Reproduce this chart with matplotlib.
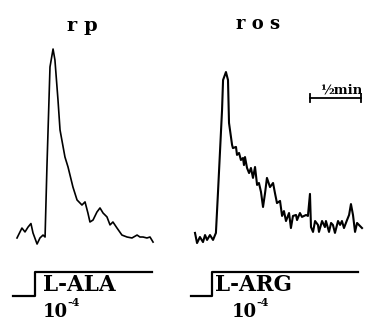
import matplotlib
matplotlib.use("Agg")
import matplotlib.pyplot as plt
import numpy as np

# ---- data (time in s, response in arbitrary units) ----
rp_t = [0.0, 2.9, 4.7, 6.5, 8.2, 9.4, 11.8, 13.5, 15.3, 16.5, 17.6, 19.4, 21.2,
        22.3, 24.1, 25.3, 28.2, 30.0, 32.9, 35.3, 38.2, 40.0, 41.7, 42.9, 44.7,
        47.0, 48.8, 50.6, 52.9, 54.7, 56.4, 58.8, 61.7, 64.7, 67.6, 70.6, 72.3,
        74.1, 76.4, 78.2, 80.0]
rp_r = [0.36, 0.87, 0.67, 0.92, 1.10, 0.62, 0.05, 0.36, 0.51, 0.41, 4.0, 9.13,
        10.05, 9.49, 7.44, 5.9, 4.51, 4.0, 2.97, 2.31, 2.05, 2.21, 1.64, 1.18,
        1.28, 1.69, 1.9, 1.64, 1.44, 1.03, 1.18, 0.87, 0.51, 0.41, 0.36, 0.51,
        0.41, 0.41, 0.36, 0.41, 0.15]

ros_t = [0.0, 1.2, 2.9, 4.7, 5.9, 7.1, 8.8, 10.6, 12.3, 13.5, 15.9, 16.5, 18.2,
         19.4, 20.0, 21.8, 22.3, 24.1, 24.7, 25.9, 27.0, 28.2, 28.8, 29.4, 30.6,
         31.8, 32.9, 34.1, 35.3, 36.5, 37.6, 38.8, 40.0, 41.2, 42.3, 44.1, 45.9,
         47.0, 48.2, 50.0, 51.2, 52.3, 53.5, 55.3, 56.4, 57.6, 59.4, 60.0, 61.7,
         62.9, 65.3, 66.4, 67.6, 68.2, 69.4, 70.6, 72.3, 72.9, 74.7, 76.4, 77.0,
         78.8, 80.0, 81.1, 82.3, 84.1, 85.3, 86.4, 87.6, 89.4, 90.6, 91.7, 92.9,
         94.1, 95.3, 96.4, 98.2]
ros_r = [0.62, 0.10, 0.41, 0.15, 0.51, 0.26, 0.51, 0.26, 0.62, 2.67, 6.92, 8.46,
         8.87, 8.46, 6.26, 5.13, 4.97, 5.03, 4.62, 4.72, 4.36, 4.46, 4.10, 4.51,
         3.95, 3.69, 3.95, 3.44, 4.0, 3.08, 3.18, 2.72, 1.95, 2.67, 3.44, 2.97,
         3.18, 2.67, 2.15, 2.26, 1.49, 1.74, 1.23, 1.64, 0.87, 1.49, 1.54, 1.28,
         1.64, 1.44, 1.54, 1.49, 2.62, 0.92, 0.67, 1.23, 1.03, 0.67, 1.23, 0.92,
         1.23, 0.67, 1.13, 1.03, 0.62, 1.23, 1.03, 1.23, 0.87, 1.28, 1.54, 2.10,
         1.54, 0.67, 1.13, 1.03, 0.87]

# stimulus (start, on, end) in s
rp_stim = [-2.4, 10.6, 79.4]
ros_stim = [-2.4, 10.0, 95.6]
stim_labels = ["L-ALA", "L-ARG"]
titles = ["r p", "r o s"]
bar_len = 30.0  # 1/2 min

W, H = 369, 324
S_PER_PX = 0.588
R_PER_PX = 1 / 19.5
STIM_LO, STIM_HI = -2.62, -1.38

fig = plt.figure(figsize=(W / 100, H / 100), dpi=100)
fig.patch.set_facecolor("white")


def panel(x0_px, t, r, stim, lw):
    ax = fig.add_axes([0, 0, 1, 1])
    ax.patch.set_alpha(0)
    ax.set_xlim(-x0_px * S_PER_PX, (W - x0_px) * S_PER_PX)
    ax.set_ylim((245 - H) * R_PER_PX, 245 * R_PER_PX)
    ax.axis("off")
    ax.plot(t, r, color="black", lw=lw, solid_joinstyle="round")
    ax.plot([stim[0], stim[1], stim[1], stim[2]],
            [STIM_LO, STIM_LO, STIM_HI, STIM_HI], color="black", lw=1.6)
    return ax


panel(17, rp_t, rp_r, rp_stim, 1.2)
ax2 = panel(195, ros_t, ros_r, ros_stim, 1.5)

# scale bar
b0 = 67.6
yb = (245 - 98) * R_PER_PX
ax2.plot([b0, b0 + bar_len], [yb, yb], color="black", lw=1.3)
for xb in (b0, b0 + bar_len):
    ax2.plot([xb, xb], [yb - 0.2, yb + 0.2], color="black", lw=1.3)
fig.text(362 / W, 1 - 94 / H, "½min", ha="right", va="baseline",
         fontsize=9.5, fontweight="bold", family="DejaVu Serif")

serif = dict(family="DejaVu Serif", fontweight="bold", color="black")
fig.text(82 / W, 1 - 26 / H, titles[0], ha="center", va="center", fontsize=14, **serif)
fig.text(258 / W, 1 - 24 / H, titles[1], ha="center", va="center", fontsize=13, **serif)

for xl, lab in [(43, stim_labels[0]), (215, stim_labels[1])]:
    fig.text(xl / W, 1 - 285 / H, lab, ha="left", va="center", fontsize=15.5, **serif)
for x10 in (43, 232):
    fig.text(x10 / W, 1 - 312 / H, "10", ha="left", va="center", fontsize=13, **serif)
    fig.text((x10 + 24) / W, 1 - 303 / H, "-4", ha="left", va="center", fontsize=8, **serif)

fig.savefig("out.png", dpi=100)
